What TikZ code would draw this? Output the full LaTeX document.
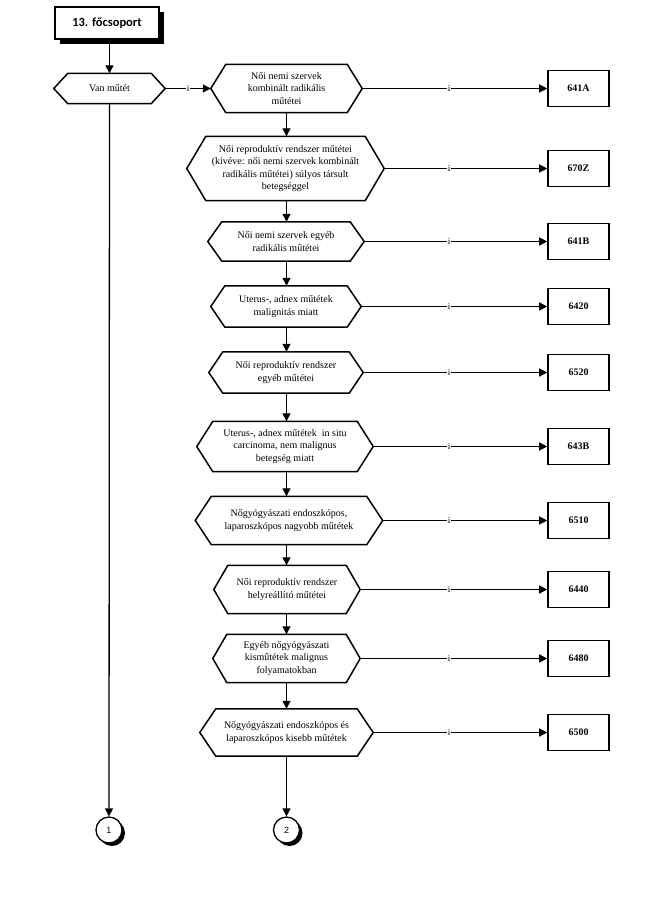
\documentclass[tikz,border=0pt]{standalone}
\usepackage{fontspec}
\setmainfont{Liberation Serif}
\newfontfamily\titlefont{Carlito}
\newfontfamily\numfont{Liberation Sans}
\usetikzlibrary{arrows.meta,shadows,calc}
\tikzset{
  hex/.style={draw=none, inner sep=0pt, align=center, font=\fontsize{10}{12.5}\selectfont},
  hexline/.style={line width=1.5pt, line join=miter},
  codebox/.style={draw, line width=1.6pt, minimum width=61pt, minimum height=36pt, inner sep=0pt, font=\bfseries\fontsize{10}{12}\selectfont},
  conn/.style={line width=1.3pt, -{Triangle[length=8pt,width=8pt]}},
  ilabel/.style={fill=white, inner sep=0.4pt, text=black, font=\fontsize{9}{10}\selectfont},
  titlebox/.style={draw, line width=1.6pt, fill=white, minimum width=104pt, minimum height=32pt, inner sep=0pt, font=\titlefont\bfseries\fontsize{12.5}{14}\selectfont, drop shadow={shadow xshift=4.5pt, shadow yshift=-4.5pt, fill=black, opacity=1}},
  conncircle/.style={circle, draw, line width=1.3pt, fill=white, minimum size=26pt, inner sep=0pt, font=\numfont\fontsize{9}{10}\selectfont, drop shadow={shadow xshift=3pt, shadow yshift=-3pt, fill=black, opacity=1}}
}
\newcommand\hexof[2]{\draw[hexline] (#1.west) -- ([xshift=#2]#1.north west) -- ([xshift=-#2]#1.north east) -- (#1.east) -- ([xshift=-#2]#1.south east) -- ([xshift=#2]#1.south west) -- cycle;}
\begin{document}
\begin{tikzpicture}[x=1pt,y=-1pt]
\useasboundingbox (0,0) rectangle (656,897);
\coordinate (ix) at (449,0);

\node[titlebox] (t) at (107,23) {13. főcsoport};

\node[hex, minimum width=111pt, minimum height=30pt] (h0) at (109.5,88.5) {Van műtét};
\hexof{h0}{14pt}

\node[hex, minimum width=151pt, minimum height=48pt] (h1) at (286.5,88.5) {Női nemi szervek\\kombinált radikális\\műtétei};
\hexof{h1}{15pt}
\node[hex, minimum width=197pt, minimum height=64pt] (h2) at (285.5,168.5) {Női reproduktív rendszer műtétei\\(kivéve: női nemi szervek kombinált\\radikális műtétei) súlyos társult\\betegséggel};
\hexof{h2}{19pt}
\node[hex, minimum width=156pt, minimum height=39pt] (h3) at (286,241.5) {Női nemi szervek egyéb\\radikális műtétei};
\hexof{h3}{14pt}
\node[hex, minimum width=150pt, minimum height=41pt] (h4) at (286,306.5) {Uterus-, adnex műtétek\\malignitás miatt};
\hexof{h4}{14pt}
\node[hex, minimum width=154pt, minimum height=41pt] (h5) at (286,372.5) {Női reproduktív rendszer\\egyéb műtétei};
\hexof{h5}{14pt}
\node[hex, minimum width=176pt, minimum height=50pt] (h6) at (285,446.5) {Uterus-, adnex műtétek\ \ in situ\\carcinoma, nem malignus\\betegség miatt};
\hexof{h6}{16pt}
\node[hex, minimum width=187pt, minimum height=48pt] (h7) at (289,520.5) {Nőgyógyászati endoszkópos,\\laparoszkópos nagyobb műtétek};
\hexof{h7}{16pt}
\node[hex, minimum width=146pt, minimum height=48pt] (h8) at (287,589.5) {Női reproduktív rendszer\\helyreállító műtétei};
\hexof{h8}{14pt}
\node[hex, minimum width=147pt, minimum height=48pt] (h9) at (286.5,658.5) {Egyéb nőgyógyászati\\kisműtétek malignus\\folyamatokban};
\hexof{h9}{14pt}
\node[hex, minimum width=173pt, minimum height=47pt] (h10) at (286.5,732.5) {Nőgyógyászati endoszkópos és\\laparoszkópos kisebb műtétek};
\hexof{h10}{16pt}

\node[codebox] (b1) at (578.5,88.5) {641A};
\node[codebox] (b2) at (578.5,168.5) {670Z};
\node[codebox] (b3) at (578.5,241.5) {641B};
\node[codebox] (b4) at (578.5,306.5) {6420};
\node[codebox] (b5) at (578.5,372.5) {6520};
\node[codebox] (b6) at (578.5,446.5) {643B};
\node[codebox] (b7) at (578.5,520.5) {6510};
\node[codebox] (b8) at (578.5,589.5) {6440};
\node[codebox] (b9) at (578.5,658.5) {6480};
\node[codebox] (b10) at (578.5,732.5) {6500};

\node[conncircle] (c1) at (109,830) {1};
\node[conncircle] (c2) at (286.5,830) {2};

% top
\draw[conn] ([yshift=-4.5pt]t.south -| h0.north) -- (h0.north);
\draw[conn] (h0.east) -- node[ilabel]{i} (h0.east -| h1.west);
\draw[conn] (h0.south) -- (c1.north);

% vertical chain
\foreach \a/\b in {h1/h2,h2/h3,h3/h4,h4/h5,h5/h6,h6/h7,h7/h8,h8/h9,h9/h10}{
  \draw[conn] (\a.south -| h1.south) -- (\b.north -| h1.south);
}
\draw[conn] (h10.south) -- (c2.north);

% horizontal to boxes
\foreach \h/\b in {h1/b1,h2/b2,h3/b3,h4/b4,h5/b5,h6/b6,h7/b7,h8/b8,h9/b9,h10/b10}{
  \draw[conn] (\h.east) -- (\h.east -| \b.west);
  \node[ilabel] at (\h.east -| ix) {i};
}
\end{tikzpicture}
\end{document}
